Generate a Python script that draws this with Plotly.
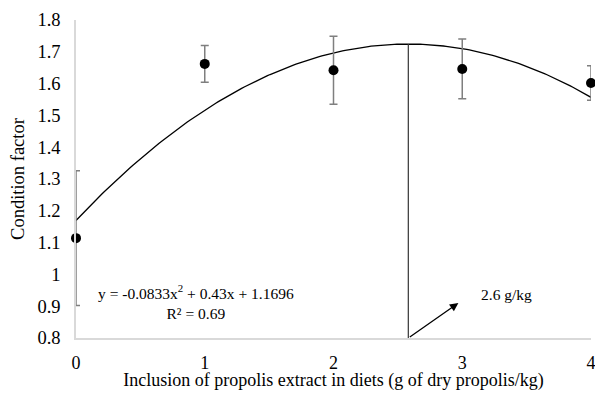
import numpy as np
import plotly.graph_objects as go

# Data
doses = [0, 1, 2, 3, 4]
condition = [1.114, 1.662, 1.642, 1.646, 1.602]
errors = [0.212, 0.058, 0.107, 0.094, 0.054]
coef = [-0.0833, 0.43, 1.1696]  # quadratic trend: a, b, c
r2 = 0.69
optimum_label = "2.6 g/kg"
y_ticks = [0.8, 0.9, 1.0, 1.1, 1.2, 1.3, 1.4, 1.5, 1.6, 1.7, 1.8]
y_tick_text = ["0.8", "0.9", "1", "1.1", "1.2", "1.3", "1.4", "1.5", "1.6", "1.7", "1.8"]
x_ticks = [0, 1, 2, 3, 4]

a, b, c = coef
xs = np.linspace(0, 4, 200)
ys = a * xs**2 + b * xs + c
x_opt = -b / (2 * a)
y_opt = a * x_opt**2 + b * x_opt + c

FONT = "Liberation Serif"

fig = go.Figure()
fig.add_trace(go.Scatter(x=xs, y=ys, mode="lines",
                         line=dict(color="black", width=1.3),
                         hoverinfo="skip", showlegend=False))
fig.add_trace(go.Scatter(x=doses, y=condition, mode="markers",
                         marker=dict(color="black", size=10),
                         error_y=dict(type="data", array=errors, color="#7f7f7f",
                                      thickness=1.5, width=4),
                         cliponaxis=False, showlegend=False))

fig.add_shape(type="line", x0=x_opt, x1=x_opt, y0=0.8, y1=y_opt,
              line=dict(color="#333333", width=1.2))

fig.add_annotation(x=2.97, y=0.91, ax=x_opt, ay=0.8, xref="x", yref="y",
                   axref="x", ayref="y", text="", showarrow=True,
                   arrowhead=2, arrowsize=1.3, arrowwidth=1.3, arrowcolor="black")
fig.add_annotation(x=3.34, y=0.937, xref="x", yref="y", text=optimum_label,
                   showarrow=False, font=dict(family=FONT, size=15.5, color="black"))
fig.add_annotation(x=0.93, y=0.913, xref="x", yref="y",
                   text=f"y = {a}x<sup>2</sup> + {b}x + {c}<br>R² = {r2}",
                   showarrow=False, align="center",
                   font=dict(family=FONT, size=15.5, color="black"))

# the page body adds an 8px margin; the figure is sized so the page does not overflow the window
fig.update_layout(
    width=591, height=383,
    margin=dict(l=68, r=8, t=12, b=53),
    paper_bgcolor="white", plot_bgcolor="white",
    font=dict(family=FONT, size=18, color="black"),
    xaxis=dict(range=[0, 4], tickvals=x_ticks, showgrid=False, zeroline=False,
               showline=True, linecolor="#d9d9d9", linewidth=1.5, ticks="",
               automargin=False, ticklabelstandoff=8,
               tickfont=dict(family=FONT, size=18, color="black"),
               title=dict(text="Inclusion of propolis extract in diets (g of dry propolis/kg)",
                          font=dict(family=FONT, size=18), standoff=12)),
    yaxis=dict(range=[0.8, 1.8], tickvals=y_ticks, ticktext=y_tick_text, showgrid=False,
               zeroline=False, showline=True, linecolor="#d9d9d9", linewidth=1.5,
               ticks="", ticklabelstandoff=10, automargin=False,
               tickfont=dict(family=FONT, size=18.5, color="black"),
               title=dict(text="Condition factor", font=dict(family=FONT, size=18.5), standoff=10)),
)

fig.write_html("out.html")
